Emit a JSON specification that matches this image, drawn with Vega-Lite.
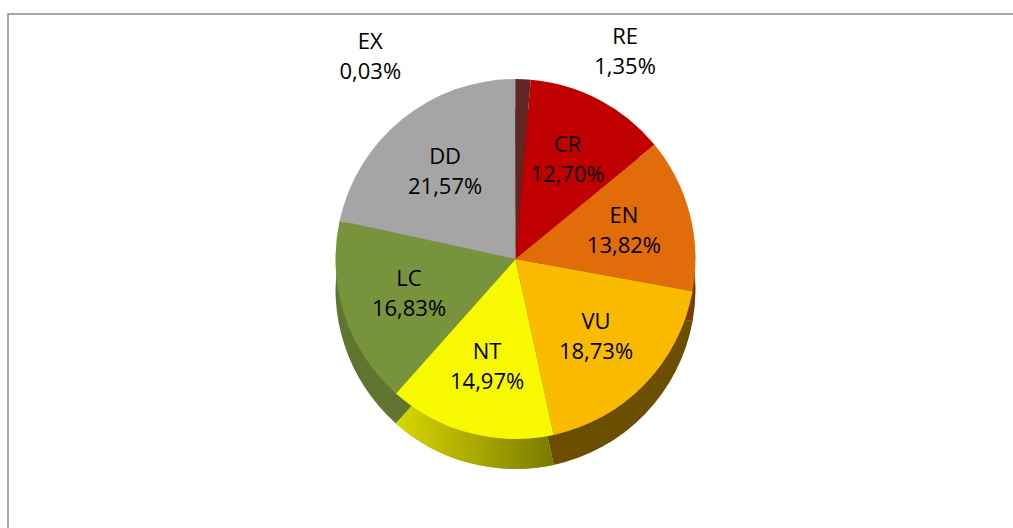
{
  "$schema": "https://vega.github.io/schema/vega-lite/v6.json",
  "width": 1015,
  "height": 524,
  "autosize": {"type": "none"},
  "padding": {"left": 8, "top": 14, "right": -10, "bottom": -10},
  "background": "white",
  "view": {"stroke": "#8c8c8c", "strokeWidth": 1.5},
  "config": {
    "view": {"stroke": "#8c8c8c", "strokeWidth": 1.5},
    "font": "Open Sans",
    "locale": {"number": {"decimal": ",", "thousands": ".", "grouping": [3], "currency": ["", " €"]}}
  },
  "data": {
    "values": [
      {"cat": "RE", "share": 0.0135, "i": 1},
      {"cat": "CR", "share": 0.1270, "i": 2},
      {"cat": "EN", "share": 0.1382, "i": 3},
      {"cat": "VU", "share": 0.1873, "i": 4},
      {"cat": "NT", "share": 0.1497, "i": 5},
      {"cat": "LC", "share": 0.1683, "i": 6},
      {"cat": "DD", "share": 0.2157, "i": 7},
      {"cat": "EX", "share": 0.0003, "i": 8}
    ]
  },
  "encoding": {
    "theta": {"field": "share", "type": "quantitative", "stack": true},
    "order": {"field": "i", "type": "quantitative"}
  },
  "layer": [
    {
      "mark": {"type": "arc", "outerRadius": 180, "yOffset": 13},
      "encoding": {
        "color": {
          "field": "cat", "type": "nominal", "legend": null,
          "scale": {"domain": ["RE", "CR", "EN", "VU", "NT", "LC", "DD", "EX"],
                    "range": ["#3a1514", "#700000", "#7a3a05", "#6b4e00", "#a8a800", "#5f7530", "#6e6e6e", "#222222"]}
        }
      }
    },
    {
      "mark": {
        "type": "arc", "outerRadius": 180, "yOffset": 13,
        "color": {"gradient": "linear", "x1": 0, "y1": 0, "x2": 1, "y2": 0,
                  "stops": [{"offset": 0, "color": "#d8d800"}, {"offset": 1, "color": "#7a7a00"}]}
      },
      "encoding": {
        "opacity": {"condition": {"test": "datum.cat == 'NT'", "value": 1}, "value": 0}
      }
    },
    {
      "mark": {"type": "arc", "outerRadius": 180, "yOffset": -17},
      "encoding": {
        "color": {
          "field": "cat", "type": "nominal", "legend": null,
          "scale": {"domain": ["RE", "CR", "EN", "VU", "NT", "LC", "DD", "EX"],
                    "range": ["#632523", "#c00000", "#e26b0a", "#f9ba00", "#f8f800", "#77933c", "#a5a5a5", "#000000"]}
        }
      }
    },
    {
      "mark": {"type": "text", "radius": 112, "dy": -32, "fontSize": 22, "color": "#000000"},
      "encoding": {"text": {"condition": {"test": "datum.share < 0.05", "value": ""}, "field": "cat", "type": "nominal"}}
    },
    {
      "mark": {"type": "text", "radius": 112, "dy": -2, "fontSize": 22, "color": "#000000"},
      "encoding": {"text": {"condition": {"test": "datum.share < 0.05", "value": ""}, "field": "share", "type": "quantitative", "format": ".2%"}}
    },
    {
      "mark": {"type": "text", "radius": 225, "dy": -9, "dx": -145, "align": "center", "fontSize": 22, "color": "#000000"},
      "encoding": {"text": {"condition": {"test": "datum.cat != 'EX'", "value": ""}, "field": "cat", "type": "nominal"}}
    },
    {
      "mark": {"type": "text", "radius": 225, "dy": 21, "dx": -145, "align": "center", "fontSize": 22, "color": "#000000"},
      "encoding": {"text": {"condition": {"test": "datum.cat != 'EX'", "value": ""}, "field": "share", "type": "quantitative", "format": ".2%"}}
    },
    {
      "mark": {"type": "text", "radius": 225, "dy": -14, "dx": 100, "align": "center", "fontSize": 22, "color": "#000000"},
      "encoding": {"text": {"condition": {"test": "datum.cat != 'RE'", "value": ""}, "field": "cat", "type": "nominal"}}
    },
    {
      "mark": {"type": "text", "radius": 225, "dy": 16, "dx": 100, "align": "center", "fontSize": 22, "color": "#000000"},
      "encoding": {"text": {"condition": {"test": "datum.cat != 'RE'", "value": ""}, "field": "share", "type": "quantitative", "format": ".2%"}}
    }
  ],
  "resolve": {"scale": {"color": "independent"}}
}
